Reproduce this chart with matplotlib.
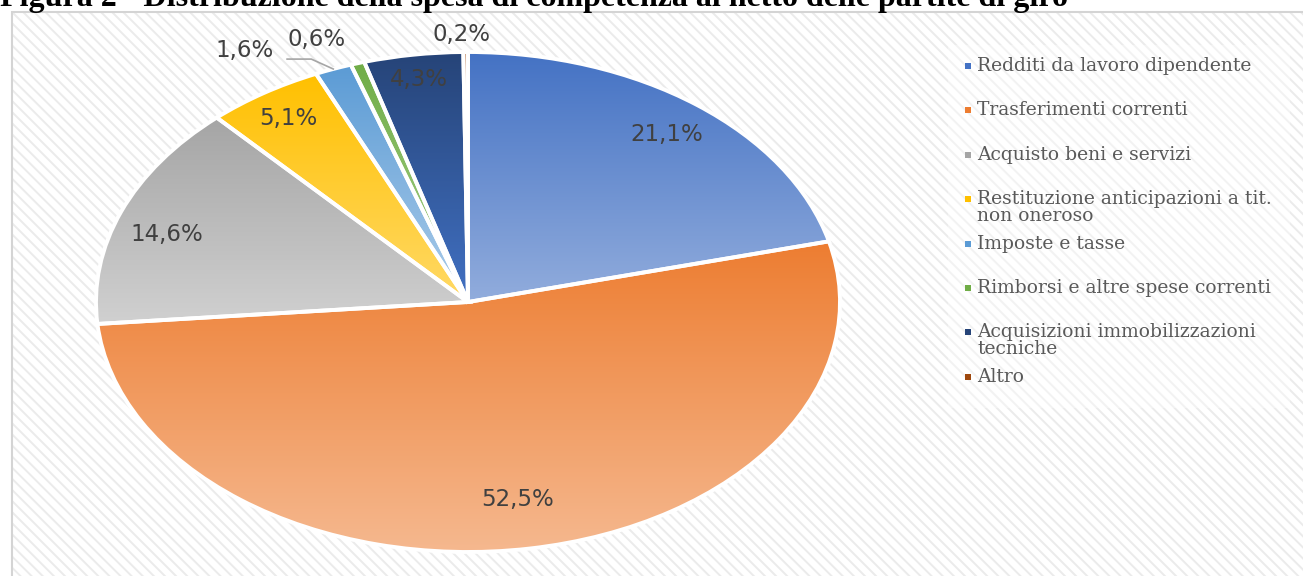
import colorsys
import numpy as np
import matplotlib
matplotlib.use("Agg")
import matplotlib.pyplot as plt
from matplotlib.patches import Rectangle
from matplotlib.colors import to_rgb

# data
categories = [
    "Redditi da lavoro dipendente",
    "Trasferimenti correnti",
    "Acquisto beni e servizi",
    "Restituzione anticipazioni a tit.\nnon oneroso",
    "Imposte e tasse",
    "Rimborsi e altre spese correnti",
    "Acquisizioni immobilizzazioni\ntecniche",
    "Altro",
]
shares = [21.1, 52.5, 14.6, 5.1, 1.6, 0.6, 4.3, 0.2]
colors = ["#4472C4", "#ED7D31", "#A5A5A5", "#FFC000",
          "#5B9BD5", "#70AD47", "#264478", "#9E480E"]
title = "Figura 2 - Distribuzione della spesa di competenza al netto delle partite di giro"

W, H = 1303, 576
fig = plt.figure(figsize=(W / 100, H / 100), dpi=100)
fig.patch.set_facecolor("white")

# chart area with diagonal stripes
plt.rcParams["hatch.linewidth"] = 1.4
box_top = 12
fig.add_artist(Rectangle((12 / W, 0), 1 - 12 / W, (H - box_top) / H, transform=fig.transFigure,
                         facecolor="white", edgecolor="#EBEBEB", hatch="\\\\\\", lw=0,
                         zorder=-3))
fig.add_artist(Rectangle((12 / W, -0.01), 1.0, (H - box_top) / H + 0.01,
                         transform=fig.transFigure, facecolor="none",
                         edgecolor="#D4D4D4", lw=1.5, zorder=-2))
# legend area, a bit lighter
fig.add_artist(Rectangle((948 / W, (H - 408) / H), 342 / W, 363 / H, transform=fig.transFigure,
                         facecolor="white", edgecolor="none", alpha=0.4, zorder=-2))

fig.text(0.0, (H - 6) / H, title, fontsize=23, fontweight="bold",
         family="Liberation Serif", color="black", va="baseline", ha="left")

# pie (elliptical, stretched horizontally)
ax = fig.add_axes([96 / W, 24 / H, 744 / W, 500 / H])
ax.set_axis_off()
ax.set_zorder(1)
wedges, _ = ax.pie(shares, startangle=90, counterclock=False, radius=1.0,
                   colors=colors, wedgeprops=dict(edgecolor="white", linewidth=2.8))


def lighter(c, dl=0.2):
    h, l, s = colorsys.rgb_to_hls(*to_rgb(c))
    return np.array(colorsys.hls_to_rgb(h, min(l + dl, 0.95), s))


# gradient fill in each slice: base colour on top, lighter at bottom
for w, c in zip(wedges, colors):
    base = np.array(to_rgb(c))
    light = lighter(c, 0.17 if c == "#A5A5A5" else 0.2)
    ext = w.get_path().get_extents()
    t = np.linspace(0, 1, 256)[:, None]
    grad = light * (1 - t[..., None]) + base * t[..., None]
    grad = np.repeat(grad, 2, axis=1)
    im = ax.imshow(grad, extent=(ext.x0, ext.x1, ext.y0, ext.y1), origin="lower",
                   aspect="auto", zorder=0, interpolation="bilinear")
    im.set_clip_path(w)
    w.set_facecolor("none")
    w.set_zorder(2)

ax.set_xlim(-1, 1)
ax.set_ylim(-1, 1)
ax.set_aspect("auto")

# percentage labels
label_r = [0.85, 0.80, 0.87, 0.88, 1.08, 1.10, 0.90, 1.07]
label_dx = [0.01, 0, 0, 0, -0.21, -0.08, 0, -0.01]
label_dy = [0, 0, -0.045, 0, 0, 0, 0, 0]
cum = np.cumsum([0] + shares[:-1])
for i, (v, w) in enumerate(zip(shares, wedges)):
    mid = np.deg2rad(90 - (cum[i] + v / 2) * 3.6)
    x = label_r[i] * np.cos(mid) + label_dx[i]
    y = label_r[i] * np.sin(mid) + label_dy[i]
    txt = f"{v:.1f}%".replace(".", ",")
    ax.text(x, y, txt, ha="center", va="center", fontsize=16.5, color="#404040",
            family="DejaVu Sans", zorder=5, clip_on=False)
    if i == 4:
        # leader line for the small slice
        ex, ey = np.cos(mid) * 1.0, np.sin(mid) * 1.0
        ax.plot([x + 0.115, x + 0.18, ex], [y - 0.035, y - 0.035, ey], color="#A6A6A6",
                lw=1.2, zorder=5, clip_on=False)

# legend
for i, (lab, c) in enumerate(zip(categories, colors)):
    ytop = 66 + i * 44.4
    fig.add_artist(Rectangle((965 / W, (H - ytop - 3) / H), 6 / W, 6 / H,
                             transform=fig.transFigure, facecolor=c, edgecolor="none"))
    fig.text(977 / W, (H - ytop + 9) / H, lab, fontsize=13.5, family="DejaVu Serif",
             color="#595959", va="top", ha="left", linespacing=0.92)

fig.savefig("out.png", dpi=100)
